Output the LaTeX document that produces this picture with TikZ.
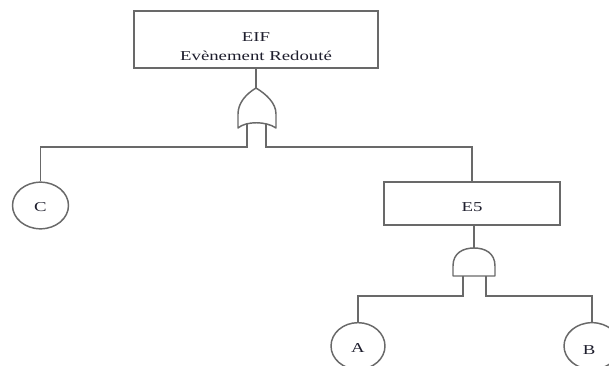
\documentclass[tikz,border=0pt]{standalone}
\usepackage{fontspec}
\setmainfont{Liberation Serif}
\usetikzlibrary{shapes.geometric}
\definecolor{ln}{RGB}{105,105,105}
\definecolor{tx}{RGB}{30,30,45}
\newcommand\stretchtxt[1]{\scalebox{1.38}[1]{#1}}
\begin{document}
\begin{tikzpicture}[x=0.75pt,y=-0.75pt,
  wire/.style={draw=ln,line width=1.1pt},
  evbox/.style={draw=ln,line width=1.1pt,rectangle,inner sep=0pt},
  basic/.style={draw=ln,line width=1.1pt,ellipse,inner sep=0pt,minimum width=42pt,minimum height=35pt},
  lbl/.style={text=tx,font=\fontsize{10.2pt}{14.25pt}\selectfont,inner sep=0pt,align=center}]
\useasboundingbox[fill=white] (0,0) rectangle (609,366);
\clip (0,0) rectangle (609,366);
% boxes
\node[evbox,minimum width=183pt,minimum height=42.75pt] (top) at (256,39.5) {};
\node[lbl] (toptxt) at (256,47) {\stretchtxt{EIF}\\\stretchtxt{Evènement Redouté}};
\node[evbox,minimum width=132pt,minimum height=32.25pt] (e5) at (472,203.5) {};
\node[lbl] (e5txt) at (472,207.5) {\stretchtxt{E5}};
% basic events
\node[basic] (c) at (40.5,205.5) {};
\node[lbl] (ctxt) at (40.5,207) {\stretchtxt{C}};
\node[basic,minimum width=40.5pt] (a) at (358,346) {};
\node[lbl] (atxt) at (358,348) {\stretchtxt{A}};
\node[basic,minimum width=42pt] (b) at (592,346) {};
\node[lbl] (btxt) at (589,350) {\stretchtxt{B}};
% OR gate
\coordinate (ortop) at (256,88);
\coordinate (orl) at (247,124);
\coordinate (orr) at (266,124);
\draw[wire,line join=round] (ortop) .. controls (246,94) and (238,103) .. (238,114) -- (238,128)
  .. controls (246,121) and (266,121) .. (276,128) -- (276,114)
  .. controls (276,103) and (266,94) .. (ortop);
% AND gate
\coordinate (andtop) at (474,248);
\coordinate (andl) at (463,276);
\coordinate (andr) at (486,276);
\draw[wire,line join=round] (453,276) -- (453,266) .. controls (453,253) and (463,248) .. (andtop)
  .. controls (485,248) and (495,253) .. (495,266) -- (495,276) -- cycle;
% connectors
\draw[wire] (top.south -| ortop) -- (ortop);
\draw[wire] (orl) -- (247,147) -| (c.north);
\draw[wire] (orr) -- (266,147) -| (e5.north);
\draw[wire] (e5.south -| andtop) -- (andtop);
\draw[wire] (andl) -- (463,296) -| (a.north);
\draw[wire] (andr) -- (486,296) -| (b.north);
\end{tikzpicture}
\end{document}
